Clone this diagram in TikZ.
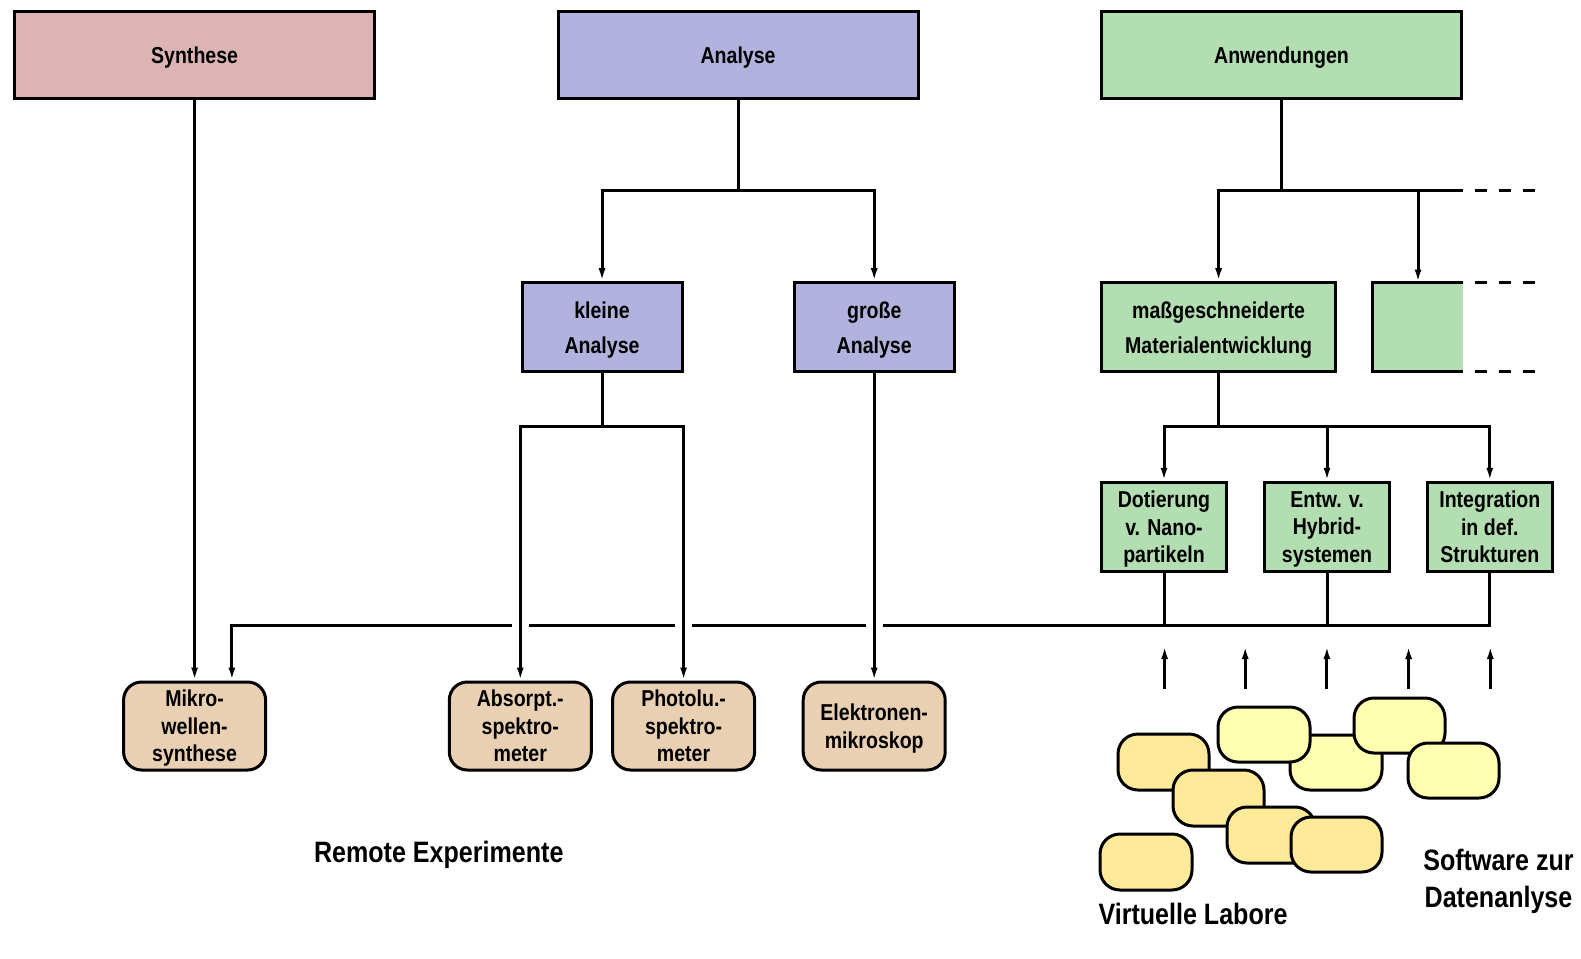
\documentclass[tikz,border=0pt]{standalone}
\usepackage{fontspec}
\setmainfont{Liberation Sans}[FakeStretch=0.85]
\usetikzlibrary{arrows.meta}

\definecolor{synred}{RGB}{221,180,180}
\definecolor{anablue}{RGB}{178,178,222}
\definecolor{anwgreen}{RGB}{178,222,178}
\definecolor{devtan}{RGB}{234,208,178}
\definecolor{labyellow}{RGB}{255,234,153}
\definecolor{softyellow}{RGB}{255,255,178}

\tikzset{
  box/.style={draw, line width=3pt, inner sep=0pt, align=center, text depth=0pt,
    font=\bfseries\fontsize{23}{27.5}\selectfont},
  topbox/.style={box, minimum width=360pt, minimum height=87pt},
  midbox/.style={box, minimum height=89pt, font=\bfseries\fontsize{23}{35}\selectfont},
  smallbox/.style={box, fill=anwgreen, minimum width=125pt, minimum height=89pt},
  devbox/.style={box, fill=devtan, rounded corners=18pt, minimum width=142pt, minimum height=88pt},
  blob/.style={draw, line width=3pt, rounded corners=20pt},
  link/.style={line width=3pt},
  arr/.style={link, -{Latex[length=13pt, width=7pt]}},
  bigtext/.style={font=\bfseries\fontsize{29.5}{37}\selectfont, inner sep=0pt}
}

\begin{document}
\begin{tikzpicture}[x=1pt, y=-1pt]
  \useasboundingbox (0,0) rectangle (1581,958);

  % Top row
  \node[topbox, fill=synred] (syn) at (194.6,55) {Synthese};
  \node[topbox, fill=anablue] (ana) at (738.1,55) {Analyse};
  \node[topbox, fill=anwgreen] (anw) at (1281.5,55) {Anwendungen};

  % Second row
  \node[midbox, fill=anablue, minimum width=160pt] (klein) at (602,327.2) {kleine\\Analyse};
  \node[midbox, fill=anablue, minimum width=160pt] (gross) at (874.2,327.2) {große\\Analyse};
  \node[midbox, fill=anwgreen, minimum width=234pt] (mass) at (1218.6,327.2) {maßgeschneiderte\\Materialentwicklung};
  \node[fill=anwgreen, minimum width=90pt, minimum height=89pt, inner sep=0pt] (misc) at (1418,327.2) {};
  \draw[link] (misc.north east) -- (misc.north west) -- (misc.south west) -- (misc.south east);

  % Third row
  \node[smallbox] (dot) at (1164,526.8) {Dotierung\\v. Nano-\\partikeln};
  \node[smallbox] (entw) at (1327,526.8) {Entw. v.\\Hybrid-\\systemen};
  \node[smallbox] (integ) at (1489.8,526.8) {Integration\\in def.\\Strukturen};

  % Devices
  \node[devbox] (mikro) at (194.6,726) {Mikro-\\wellen-\\synthese};
  \node[devbox] (absorpt) at (520.3,726) {Absorpt.-\\spektro-\\meter};
  \node[devbox] (photolu) at (683.6,726) {Photolu.-\\spektro-\\meter};
  \node[devbox] (elektron) at (874.2,726) {Elektronen-\\mikroskop};

  % Branch points
  \coordinate (abus) at (738.1,190.6);
  \coordinate (wbus) at (1281.5,190.6);
  \coordinate (wend) at (1463,190.6);
  \coordinate (kbus) at (602,426.5);
  \coordinate (mbus) at (1218.6,426.5);
  \coordinate (busend) at (231.9,625.1);

  % Main bus to the microwave synthesis
  \draw[arr] (integ.south) |- (busend) -- (busend |- mikro.north);
  \draw[link] (dot) -- (dot |- busend);
  \draw[link] (entw) -- (entw |- busend);
  \foreach \x in {520.3,683.6,874.2}
    \draw[white, line width=5pt] ({\x-8.5},625.1) -- ({\x+8.5},625.1);

  \draw[arr] (syn) -- (mikro);

  \draw[link] (ana) -- (abus);
  \draw[arr] (abus) -| (klein);
  \draw[arr] (abus) -| (gross);

  \draw[link] (anw) -- (wbus) -- (wend);
  \draw[arr] (wbus) -| (mass);
  \draw[arr] (wbus) -| (misc);

  % Dashed continuation
  \draw[link, dash pattern=on 12pt off 12pt, dash phase=12pt] (wend) -- ++(73,0);
  \draw[link, dash pattern=on 12pt off 12pt, dash phase=12pt] (misc.north east) -- ++(73,0);
  \draw[link, dash pattern=on 12pt off 12pt, dash phase=12pt] (misc.south east) -- ++(73,0);

  \draw[link] (klein) -- (kbus);
  \draw[arr] (kbus) -| (absorpt);
  \draw[arr] (kbus) -| (photolu);
  \draw[arr] (gross) -- (elektron);

  \draw[link] (mass) -- (mbus);
  \draw[arr] (mbus) -| (dot);
  \draw[arr] (mbus) -| (entw);
  \draw[arr] (mbus) -| (integ);

  % Arrows from the software
  \foreach \x [count=\i] in {1164.6,1245.2,1326.9,1408.6,1490.3} {
    \coordinate (up\i) at (\x,688.7);
    \draw[arr] (up\i) -- ++(0,-42.7);
  }

  % Virtual labs
  \draw[blob, fill=softyellow] (1290,735) rectangle (1382,790);
  \draw[blob, fill=softyellow] (1218,707) rectangle (1310,762);
  \draw[blob, fill=softyellow] (1354,698) rectangle (1445,753);
  \draw[blob, fill=softyellow] (1408,743) rectangle (1499,798);
  \draw[blob, fill=labyellow] (1118,734) rectangle (1209,790);
  \draw[blob, fill=labyellow] (1173,770) rectangle (1264,826);
  \draw[blob, fill=labyellow] (1227,807) rectangle (1315,863);
  \draw[blob, fill=labyellow] (1291,817) rectangle (1382,872);
  \draw[blob, fill=labyellow] (1100,834) rectangle (1192,890);

  % Labels
  \node[bigtext, anchor=base] (remote) at (438.8,862) {Remote Experimente};
  \node[bigtext, anchor=base west] (virt) at (1098.3,924) {Virtuelle Labore};
  \node[bigtext, align=center, anchor=north] (soft) at (1498.5,849) {Software zur\\Datenanlyse};
\end{tikzpicture}
\end{document}
